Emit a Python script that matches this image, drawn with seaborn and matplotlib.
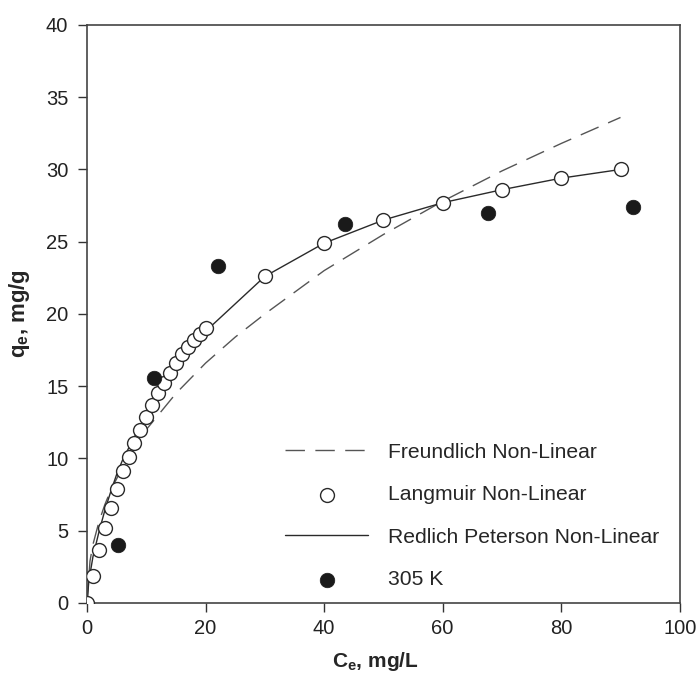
import numpy as np
import pandas as pd
import seaborn as sns
import matplotlib.pyplot as plt

# data
freundlich_x = [0, 0.5, 1, 2, 3, 4, 6, 8, 10, 12, 15, 20, 25, 30, 40, 50, 60, 70, 80, 90]
freundlich_y = [0, 2.9, 4.05, 5.6, 6.8, 7.8, 9.4, 10.8, 12.0, 13.0, 14.5, 16.6, 18.4, 20.0, 23.0, 25.5, 27.8, 29.9, 31.8, 33.6]

langmuir_x = [0, 1, 2, 3, 4, 5, 6, 7, 8, 9, 10, 11, 12, 13, 14, 15, 16, 17, 18, 19, 20,
              30, 40, 50, 60, 70, 80, 90]
langmuir_y = [0, 1.9, 3.7, 5.2, 6.6, 7.9, 9.1, 10.1, 11.1, 12.0, 12.9, 13.7, 14.5, 15.2,
              15.9, 16.6, 17.2, 17.7, 18.2, 18.6, 19.0, 22.6, 24.9, 26.5, 27.7, 28.6, 29.4, 30.0]

rp_x = [0, 0.3, 1, 2, 3, 4, 5, 6, 8, 10, 12, 14, 16, 18, 20, 30, 40, 50, 60, 70, 80, 90]
rp_y = [0, 1.5, 3.2, 4.9, 6.4, 7.7, 8.9, 9.9, 11.5, 12.9, 14.3, 15.6, 16.8, 17.8, 18.8,
        22.6, 24.9, 26.5, 27.7, 28.6, 29.4, 30.0]

exp_x = [5.2, 11.3, 22.1, 43.5, 67.6, 92.1]
exp_y = [4.0, 15.6, 23.3, 26.2, 27.0, 27.4]

legend_order = ['Freundlich Non-Linear', 'Langmuir Non-Linear',
                'Redlich Peterson Non-Linear', '305 K']

sns.set_style('ticks')
plt.rcParams['font.family'] = ['Liberation Sans', 'DejaVu Sans']
plt.rcParams['mathtext.fontset'] = 'custom'
plt.rcParams['mathtext.rm'] = 'Liberation Sans'
plt.rcParams['mathtext.bf'] = 'Liberation Sans:bold'
plt.rcParams['mathtext.it'] = 'Liberation Sans:italic'

fig = plt.figure(figsize=(6.99, 6.75), dpi=100)
ax = fig.add_axes([0.1245, 0.1067, 0.848, 0.8563])

sns.lineplot(x=freundlich_x, y=freundlich_y, ax=ax, color='#555555', lw=1.0,
             linestyle=(0, (14, 7.5)), label=legend_order[0], zorder=2)
sns.lineplot(x=rp_x, y=rp_y, ax=ax, color='#2a2a2a', lw=1.0,
             label=legend_order[2], zorder=2)
sns.scatterplot(x=langmuir_x, y=langmuir_y, ax=ax, marker='o', s=100, color='white',
                edgecolor='#2a2a2a', linewidth=1.0, label=legend_order[1], zorder=3)
sns.scatterplot(x=exp_x, y=exp_y, ax=ax, marker='o', s=110, color='#1a1a1a',
                edgecolor='#1a1a1a', linewidth=0.5, label=legend_order[3], zorder=4)

ax.set_xlim(0, 100)
ax.set_ylim(0, 40)
ax.set_xticks([0, 20, 40, 60, 80, 100])
ax.set_yticks([0, 5, 10, 15, 20, 25, 30, 35, 40])
ax.tick_params(direction='out', length=6.5, width=1, color='#333333',
               labelsize=14.5, labelcolor='#222222')
ax.tick_params(axis='x', pad=5)
ax.tick_params(axis='y', pad=7)
for sp in ax.spines.values():
    sp.set_linewidth(1.2)
    sp.set_color('#444444')

ax.set_xlabel(r'$\mathbf{C_e}$, mg/L', fontsize=15, fontweight='bold')
ax.set_ylabel(r'$\mathbf{q_e}$, mg/g', fontsize=16, fontweight='bold')
ax.xaxis.set_label_coords(0.486, -0.082)
ax.yaxis.set_label_coords(-0.093, 0.5)

handles, labels = ax.get_legend_handles_labels()
lookup = dict(zip(labels, handles))
ax.legend([lookup[l] for l in legend_order], legend_order, loc='upper left',
          bbox_to_anchor=(0.334, 0.277), frameon=False, fontsize=15.2,
          handlelength=3.95, handletextpad=0.95, labelspacing=1.11,
          borderpad=0, borderaxespad=0)

fig.savefig('out.png', dpi=100)
